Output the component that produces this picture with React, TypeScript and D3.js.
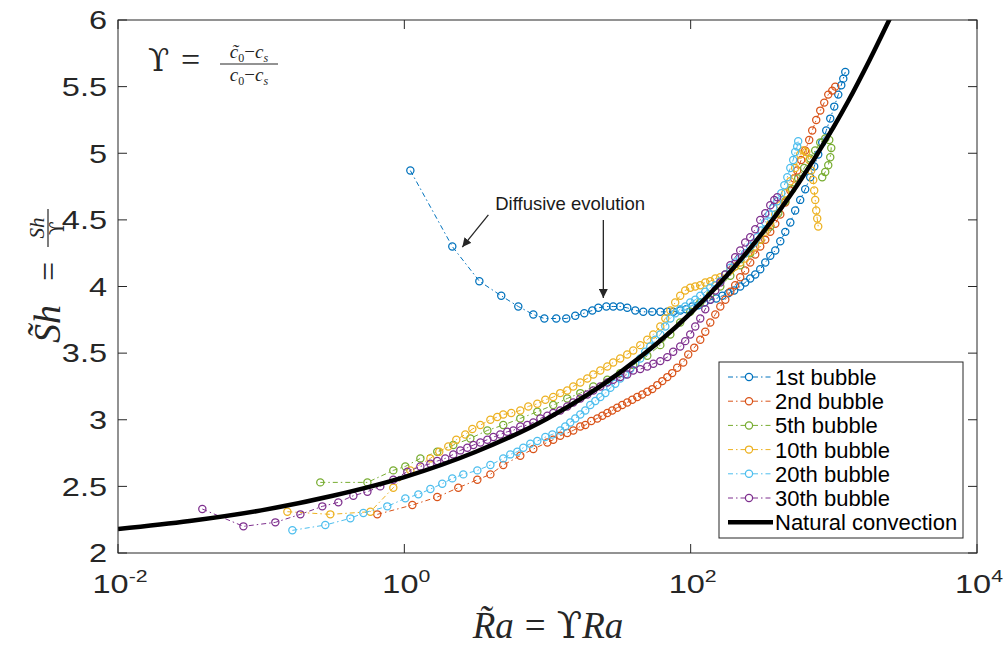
import * as d3 from "d3";

// [log10(Ra~), Sh~]
const bubble1: [number, number][] = [
  [0.042, 4.87], [0.335, 4.3], [0.524, 4.04], [0.677, 3.93], [0.796, 3.85], [0.901, 3.79], [0.978, 3.76],
  [1.061, 3.76], [1.131, 3.76], [1.194, 3.78], [1.257, 3.8], [1.313, 3.82], [1.355, 3.84], [1.411, 3.85],
  [1.459, 3.85], [1.508, 3.85], [1.557, 3.84], [1.613, 3.82], [1.669, 3.81], [1.732, 3.81], [1.788, 3.81],
  [1.837, 3.81], [1.878, 3.81], [1.927, 3.82], [1.969, 3.83], [2.011, 3.85], [2.053, 3.86], [2.095, 3.88],
  [2.137, 3.9], [2.179, 3.91], [2.221, 3.93], [2.263, 3.95], [2.304, 3.97], [2.346, 4.0], [2.381, 4.03],
  [2.416, 4.06], [2.451, 4.09], [2.486, 4.13], [2.521, 4.18], [2.556, 4.23], [2.591, 4.27], [2.626, 4.34],
  [2.661, 4.41], [2.696, 4.48], [2.73, 4.57], [2.765, 4.65], [2.8, 4.73], [2.835, 4.82], [2.863, 4.9],
  [2.891, 4.99], [2.919, 5.08], [2.947, 5.17], [2.975, 5.26], [3.003, 5.35], [3.031, 5.44], [3.052, 5.51],
  [3.066, 5.56], [3.08, 5.61],
];

const bubble2: [number, number][] = [
  [-0.189, 2.29], [0.056, 2.36], [0.23, 2.42], [0.377, 2.49], [0.51, 2.55], [0.601, 2.59], [0.691, 2.66],
  [0.81, 2.73], [0.901, 2.78], [0.999, 2.83], [1.04, 2.85], [1.089, 2.88], [1.138, 2.9], [1.18, 2.92],
  [1.229, 2.95], [1.264, 2.96], [1.306, 2.99], [1.348, 3.01], [1.383, 3.03], [1.418, 3.05], [1.452, 3.07],
  [1.487, 3.09], [1.522, 3.11], [1.557, 3.13], [1.592, 3.15], [1.627, 3.17], [1.662, 3.19], [1.697, 3.21],
  [1.732, 3.23], [1.767, 3.26], [1.802, 3.29], [1.837, 3.32], [1.871, 3.35], [1.906, 3.39], [1.948, 3.43],
  [1.983, 3.49], [2.025, 3.54], [2.067, 3.6], [2.102, 3.66], [2.137, 3.73], [2.172, 3.79], [2.207, 3.85],
  [2.242, 3.9], [2.277, 3.96], [2.311, 4.01], [2.346, 4.07], [2.381, 4.12], [2.416, 4.18], [2.451, 4.24],
  [2.486, 4.3], [2.521, 4.35], [2.556, 4.41], [2.591, 4.47], [2.626, 4.54], [2.661, 4.63], [2.696, 4.72],
  [2.723, 4.81], [2.744, 4.87], [2.772, 4.95], [2.8, 5.02], [2.828, 5.1], [2.849, 5.17], [2.877, 5.25],
  [2.905, 5.32], [2.933, 5.38], [2.961, 5.44], [2.989, 5.47], [3.01, 5.5],
];

const bubble5: [number, number][] = [
  [-0.587, 2.53], [-0.258, 2.53], [-0.077, 2.62], [0.007, 2.65], [0.112, 2.71], [0.23, 2.76], [0.342, 2.81],
  [0.461, 2.86], [0.58, 2.92], [0.691, 2.96], [0.81, 3.01], [0.929, 3.06], [1.04, 3.11], [1.138, 3.16],
  [1.229, 3.2], [1.32, 3.25], [1.418, 3.3], [1.508, 3.35], [1.599, 3.41], [1.697, 3.48], [1.788, 3.56],
  [1.858, 3.64], [1.927, 3.73], [1.997, 3.81], [2.067, 3.88], [2.137, 3.94], [2.207, 4.0], [2.277, 4.08],
  [2.346, 4.16], [2.416, 4.25], [2.486, 4.35], [2.556, 4.45], [2.612, 4.55], [2.661, 4.64], [2.709, 4.73],
  [2.751, 4.81], [2.793, 4.89], [2.835, 4.96], [2.87, 5.02], [2.905, 5.08], [2.94, 5.11], [2.968, 5.1],
  [2.982, 5.04], [2.975, 4.97], [2.961, 4.91], [2.94, 4.86], [2.919, 4.82],
];

const bubble10: [number, number][] = [
  [-0.817, 2.31], [-0.517, 2.29], [-0.237, 2.31], [-0.077, 2.49], [0.042, 2.62], [0.182, 2.71], [0.244, 2.76],
  [0.307, 2.8], [0.363, 2.85], [0.426, 2.89], [0.475, 2.93], [0.531, 2.96], [0.601, 3.0], [0.649, 3.02],
  [0.691, 3.04], [0.747, 3.05], [0.81, 3.07], [0.866, 3.1], [0.929, 3.12], [0.985, 3.15], [1.04, 3.17],
  [1.089, 3.2], [1.138, 3.22], [1.18, 3.25], [1.229, 3.28], [1.278, 3.31], [1.32, 3.34], [1.369, 3.37],
  [1.418, 3.4], [1.459, 3.43], [1.508, 3.46], [1.557, 3.49], [1.599, 3.52], [1.648, 3.56], [1.697, 3.6],
  [1.739, 3.64], [1.788, 3.7], [1.823, 3.76], [1.858, 3.82], [1.892, 3.88], [1.927, 3.93], [1.962, 3.97],
  [1.997, 3.99], [2.032, 4.0], [2.067, 4.01], [2.102, 4.03], [2.137, 4.04], [2.172, 4.06], [2.207, 4.07],
  [2.242, 4.09], [2.277, 4.12], [2.311, 4.15], [2.346, 4.18], [2.381, 4.21], [2.416, 4.26], [2.451, 4.3],
  [2.486, 4.35], [2.521, 4.41], [2.556, 4.47], [2.591, 4.54], [2.626, 4.61], [2.661, 4.7], [2.696, 4.79],
  [2.73, 4.89], [2.765, 4.99], [2.786, 5.02], [2.807, 5.01], [2.828, 4.95], [2.842, 4.87], [2.856, 4.8],
  [2.863, 4.72], [2.87, 4.65], [2.877, 4.57], [2.884, 4.51], [2.891, 4.45],
];

const bubble20: [number, number][] = [
  [-0.782, 2.17], [-0.552, 2.21], [-0.377, 2.26], [-0.286, 2.3], [-0.119, 2.35], [0.007, 2.41], [0.098, 2.44],
  [0.182, 2.48], [0.265, 2.52], [0.335, 2.56], [0.412, 2.59], [0.51, 2.62], [0.601, 2.66], [0.691, 2.71],
  [0.74, 2.74], [0.789, 2.76], [0.831, 2.79], [0.88, 2.82], [0.929, 2.84], [0.985, 2.87], [1.034, 2.89],
  [1.089, 2.92], [1.124, 2.95], [1.159, 2.98], [1.194, 3.01], [1.229, 3.04], [1.264, 3.07], [1.299, 3.11],
  [1.334, 3.14], [1.369, 3.17], [1.404, 3.2], [1.439, 3.24], [1.473, 3.27], [1.508, 3.31], [1.543, 3.34],
  [1.578, 3.38], [1.613, 3.42], [1.648, 3.46], [1.683, 3.51], [1.718, 3.55], [1.753, 3.6], [1.788, 3.64],
  [1.823, 3.7], [1.858, 3.76], [1.892, 3.8], [1.927, 3.83], [1.962, 3.85], [1.997, 3.88], [2.032, 3.9],
  [2.067, 3.93], [2.102, 3.96], [2.137, 3.99], [2.172, 4.01], [2.207, 4.04], [2.242, 4.09], [2.277, 4.14],
  [2.311, 4.18], [2.346, 4.21], [2.381, 4.25], [2.416, 4.3], [2.444, 4.33], [2.465, 4.37], [2.493, 4.42],
  [2.521, 4.48], [2.549, 4.54], [2.577, 4.59], [2.605, 4.64], [2.633, 4.7], [2.654, 4.76], [2.675, 4.82],
  [2.696, 4.89], [2.716, 4.95], [2.73, 5.01], [2.744, 5.05], [2.751, 5.09],
];

const bubble30: [number, number][] = [
  [-1.411, 2.33], [-1.124, 2.2], [-0.901, 2.23], [-0.726, 2.29], [-0.573, 2.35], [-0.461, 2.38], [-0.356, 2.43],
  [-0.258, 2.46], [-0.168, 2.5], [-0.077, 2.55], [0.021, 2.61], [0.112, 2.65], [0.182, 2.67], [0.23, 2.69],
  [0.286, 2.71], [0.342, 2.74], [0.391, 2.77], [0.44, 2.79], [0.482, 2.81], [0.531, 2.83], [0.58, 2.85],
  [0.622, 2.87], [0.67, 2.89], [0.719, 2.91], [0.761, 2.92], [0.81, 2.95], [0.859, 2.96], [0.901, 2.98],
  [0.95, 3.01], [0.999, 3.03], [1.04, 3.05], [1.089, 3.07], [1.138, 3.1], [1.18, 3.13], [1.229, 3.16],
  [1.278, 3.19], [1.32, 3.22], [1.369, 3.25], [1.418, 3.28], [1.459, 3.3], [1.508, 3.32], [1.557, 3.34],
  [1.599, 3.37], [1.648, 3.38], [1.697, 3.4], [1.739, 3.42], [1.788, 3.44], [1.837, 3.47], [1.878, 3.51],
  [1.927, 3.55], [1.962, 3.59], [1.997, 3.64], [2.032, 3.7], [2.067, 3.76], [2.102, 3.83], [2.137, 3.9],
  [2.172, 3.97], [2.207, 4.03], [2.242, 4.09], [2.277, 4.16], [2.311, 4.22], [2.346, 4.27], [2.381, 4.33],
  [2.416, 4.37], [2.451, 4.43], [2.486, 4.5], [2.521, 4.55], [2.556, 4.61], [2.584, 4.65], [2.605, 4.67],
];

const naturalConvection: [number, number][] = [
  [-2, 2.18], [-1.5, 2.24], [-1, 2.32], [-0.5, 2.43], [0, 2.57], [0.5, 2.76], [1, 3.01], [1.5, 3.35],
  [2, 3.8], [2.5, 4.4], [2.75, 4.77], [3, 5.2], [3.1, 5.39], [3.25, 5.7], [3.4, 6.03],
];

const seriesNames = ["1st bubble", "2nd bubble", "5th bubble", "10th bubble", "20th bubble", "30th bubble"];
const seriesColors = ["#0072BD", "#D95319", "#77AC30", "#EDB120", "#4DBEEE", "#7E2F8E"];
const seriesData = [bubble1, bubble2, bubble5, bubble10, bubble20, bubble30];

const xTickExponents = [-2, 0, 2, 4];
const yTicks = [2, 2.5, 3, 3.5, 4, 4.5, 5, 5.5, 6];

const W = 1005;
const H = 652;
const PL = 118, PR = 977, PT = 20, PB = 553;
const axisColor = "#262626";
const sans = "'Liberation Sans', Arial, Helvetica, sans-serif";
const serif = "'Liberation Serif', 'Times New Roman', serif";
const greek = "'DejaVu Serif', 'Liberation Serif', serif";
const dashDot = "5,3,1.5,3";
const UPS = "\u03D2";

export default function App() {
  const x = d3.scaleLog().domain([1e-2, 1e4]).range([PL, PR]);
  const y = d3.scaleLinear().domain([2, 6]).range([PB, PT]);
  const px = (d: [number, number]) => x(Math.pow(10, d[0]));
  const py = (d: [number, number]) => y(d[1]);

  const line = d3.line<[number, number]>().x(px).y(py);
  const smooth = d3.line<[number, number]>().x(px).y(py).curve(d3.curveMonotoneX);

  const tick = 9;
  const legendX = 719, legendY = 362, legendW = 244, legendH = 176, rowH = 24.2;

  return (
    <svg width={W} height={H} style={{ position: "absolute", left: 0, top: 0, background: "#fff" }}>
      <defs>
        <clipPath id="plotArea">
          <rect x={PL} y={PT} width={PR - PL} height={PB - PT} />
        </clipPath>
        <marker id="arrowHead" viewBox="0 0 10 10" refX="10" refY="5" markerWidth="9" markerHeight="9"
          markerUnits="userSpaceOnUse" orient="auto">
          <path d="M0,0 L10,5 L0,10 z" fill={axisColor} />
        </marker>
      </defs>

      <rect x={0} y={0} width={W} height={H} fill="#fff" />

      {/* data */}
      <g clipPath="url(#plotArea)">
        {seriesData.map((data, i) => (
          <g key={seriesNames[i]}>
            <path d={line(data) || ""} fill="none" stroke={seriesColors[i]} strokeWidth={1} strokeDasharray={dashDot} />
            {data.map((d, j) => (
              <circle key={j} cx={px(d)} cy={py(d)} r={3.6} fill="none" stroke={seriesColors[i]} strokeWidth={1.25} />
            ))}
          </g>
        ))}
        <path d={smooth(naturalConvection) || ""} fill="none" stroke="#000" strokeWidth={4.5} />
      </g>

      {/* axes box and ticks */}
      <rect x={PL} y={PT} width={PR - PL} height={PB - PT} fill="none" stroke={axisColor} strokeWidth={1} />
      {yTicks.map((t) => (
        <g key={t}>
          <line x1={PL} x2={PL + tick} y1={y(t)} y2={y(t)} stroke={axisColor} />
          <line x1={PR} x2={PR - tick} y1={y(t)} y2={y(t)} stroke={axisColor} />
          <text transform={`translate(${PL - 11},${y(t)}) scale(1.25,1)`} dy="0.36em" textAnchor="end"
            fontFamily={sans} fontSize={26} fill={axisColor}>
            {String(t)}
          </text>
        </g>
      ))}
      {xTickExponents.map((e) => {
        const xv = x(Math.pow(10, e));
        return (
          <g key={e}>
            <line x1={xv} x2={xv} y1={PB} y2={PB - tick} stroke={axisColor} />
            <line x1={xv} x2={xv} y1={PT} y2={PT + tick} stroke={axisColor} />
            <text transform={`translate(${xv + 2},593) scale(1.25,1)`} textAnchor="middle" fontFamily={sans}
              fontSize={26} fill={axisColor}>
              <tspan>10</tspan>
              <tspan dy={-11} fontSize={17}>{String(e)}</tspan>
            </text>
          </g>
        );
      })}

      {/* axis labels */}
      <text x={548} y={638} textAnchor="middle" fontFamily={serif} fontSize={37} fill={axisColor}>
        <tspan fontStyle="italic">R̃a</tspan>
        <tspan dx={11}>=</tspan>
        <tspan dx={11} fontFamily={greek}>{UPS}</tspan>
        <tspan fontStyle="italic">Ra</tspan>
      </text>
      <g transform="translate(60,275) rotate(-90)" fill={axisColor} fontFamily={serif}>
        <text x={-68} y={0} fontSize={38} fontStyle="italic">S̃h</text>
        <text x={-6} y={0} fontSize={34}>=</text>
        <text x={47} y={-16} fontSize={21} textAnchor="middle" fontStyle="italic">Sh</text>
        <line x1={28} x2={66} y1={-12} y2={-12} stroke={axisColor} strokeWidth={1.2} />
        <text x={47} y={4} fontSize={20} textAnchor="middle" fontFamily={greek}>{UPS}</text>
      </g>

      {/* definition of upsilon */}
      <g fill={axisColor} fontFamily={serif}>
        <text x={148} y={71} fontSize={31} fontFamily={greek}>{UPS}</text>
        <text x={181} y={71} fontSize={34}>=</text>
        <text x={249} y={58} fontSize={19} textAnchor="middle">
          <tspan fontStyle="italic">c̃</tspan>
          <tspan dy={4} fontSize={12}>0</tspan>
          <tspan dy={-4}>−</tspan>
          <tspan fontStyle="italic">c</tspan>
          <tspan dy={4} fontSize={12} fontStyle="italic">s</tspan>
        </text>
        <line x1={220} x2={278} y1={64} y2={64} stroke={axisColor} strokeWidth={1} />
        <text x={249} y={81} fontSize={19} textAnchor="middle">
          <tspan fontStyle="italic">c</tspan>
          <tspan dy={4} fontSize={12}>0</tspan>
          <tspan dy={-4}>−</tspan>
          <tspan fontStyle="italic">c</tspan>
          <tspan dy={4} fontSize={12} fontStyle="italic">s</tspan>
        </text>
      </g>

      {/* annotation */}
      <text x={px([0.635, 0])} y={py([0, 4.574])} fontFamily={sans} fontSize={18.5} fill="#1a1a1a">
        Diffusive evolution
      </text>
      <line x1={px([0.587, 0])} y1={py([0, 4.537])} x2={px([0.405, 0])} y2={py([0, 4.296])}
        stroke={axisColor} strokeWidth={1.3} markerEnd="url(#arrowHead)" />
      <line x1={px([1.39, 0])} y1={py([0, 4.5])} x2={px([1.39, 0])} y2={py([0, 3.914])}
        stroke={axisColor} strokeWidth={1.3} markerEnd="url(#arrowHead)" />

      {/* legend */}
      <rect x={legendX} y={legendY} width={legendW} height={legendH} fill="#fff" stroke={axisColor} strokeWidth={1} />
      {seriesNames.map((name, i) => {
        const cy = legendY + 15 + i * rowH;
        return (
          <g key={name}>
            <line x1={728} x2={772} y1={cy} y2={cy} stroke={seriesColors[i]} strokeWidth={1} strokeDasharray={dashDot} />
            <circle cx={749} cy={cy} r={3.6} fill="#fff" stroke={seriesColors[i]} strokeWidth={1.25} />
            <text x={775} y={cy} dy="0.36em" fontFamily={sans} fontSize={22} fill="#000">{name}</text>
          </g>
        );
      })}
      <g>
        <line x1={728} x2={773} y1={legendY + 15 + 6 * rowH} y2={legendY + 15 + 6 * rowH} stroke="#000" strokeWidth={4.5} />
        <text x={775} y={legendY + 15 + 6 * rowH} dy="0.36em" fontFamily={sans} fontSize={22} fill="#000">
          Natural convection
        </text>
      </g>
    </svg>
  );
}
